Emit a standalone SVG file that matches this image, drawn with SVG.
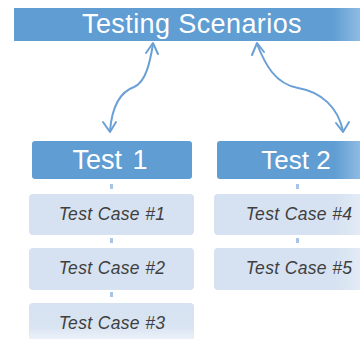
<svg xmlns="http://www.w3.org/2000/svg" width="360" height="339" viewBox="0 0 360 339">
  <style>
    .hdr { fill: #5f9dd3; }
    .hdr-text { font-family: "Liberation Sans", Arial, sans-serif; fill: #ffffff; text-anchor: middle; }
    .case { fill: #d6e2f1; }
    .case-text { font-family: "Liberation Sans", Arial, sans-serif; font-style: italic; font-size: 17.5px; letter-spacing: 0.35px; fill: #3f3f3f; text-anchor: middle; }
    .link { fill: none; stroke: #6aa0d6; stroke-width: 2; stroke-linecap: round; stroke-linejoin: round; }
    .stub { fill: #a9c5e6; }
  </style>
  <defs>
    <!-- right-edge fade for shapes running off the canvas -->
    <linearGradient id="fadeHdr" x1="0" y1="0" x2="1" y2="0">
      <stop offset="0" stop-color="#5f9dd3"/>
      <stop offset="0.92" stop-color="#5f9dd3"/>
      <stop offset="1" stop-color="#8fbbe2"/>
    </linearGradient>
    <linearGradient id="fadeHdr2" x1="0" y1="0" x2="1" y2="0">
      <stop offset="0" stop-color="#5f9dd3"/>
      <stop offset="0.78" stop-color="#5f9dd3"/>
      <stop offset="1" stop-color="#9cc3e6"/>
    </linearGradient>
    <linearGradient id="fadeCase" x1="0" y1="0" x2="1" y2="0">
      <stop offset="0" stop-color="#d6e2f1"/>
      <stop offset="0.8" stop-color="#d6e2f1"/>
      <stop offset="1" stop-color="#e4ecf6"/>
    </linearGradient>
    <linearGradient id="fadeDown" x1="0" y1="0" x2="0" y2="1">
      <stop offset="0" stop-color="#d6e2f1"/>
      <stop offset="0.6" stop-color="#d9e4f2"/>
      <stop offset="1" stop-color="#f2f6fb"/>
    </linearGradient>
  </defs>

  <g id="scenarios">
    <rect x="14" y="8" width="346" height="33" fill="url(#fadeHdr)"/>
    <text class="hdr-text" x="192" y="33" font-size="27" letter-spacing="0.4">Testing Scenarios</text>
  </g>

  <g id="test1">
    <rect class="hdr" x="32" y="141" width="160" height="38" rx="3"/>
    <text class="hdr-text" x="110" y="169" font-size="27" word-spacing="3">Test 1</text>
  </g>

  <g id="test2">
    <rect x="217" y="141" width="150" height="38" rx="3" fill="url(#fadeHdr2)"/>
    <text class="hdr-text" x="296" y="169" font-size="26">Test 2</text>
  </g>

  <g id="case1">
    <rect class="case" x="29" y="194" width="165" height="41" rx="4"/>
    <text class="case-text" x="112" y="220">Test Case #1</text>
  </g>
  <g id="case2">
    <rect class="case" x="29" y="248" width="165" height="42" rx="4"/>
    <text class="case-text" x="112" y="274">Test Case #2</text>
  </g>
  <g id="case3">
    <rect x="29" y="303" width="165" height="40" rx="4" fill="url(#fadeDown)"/>
    <text class="case-text" x="112" y="329">Test Case #3</text>
  </g>
  <g id="case4">
    <rect x="214" y="194" width="150" height="41" rx="4" fill="url(#fadeCase)"/>
    <text class="case-text" x="299" y="220">Test Case #4</text>
  </g>
  <g id="case5">
    <rect x="214" y="248" width="150" height="42" rx="4" fill="url(#fadeCase)"/>
    <text class="case-text" x="299" y="274">Test Case #5</text>
  </g>

  <g id="connectors">
    <!-- curved double-headed links from the scenario bar to each test -->
    <path class="link" d="M153 44 C150 62 146 82 134 87 C120 92 112 106 110 131"/>
    <path class="link" d="M146 53 L153 43 L158 54"/>
    <path class="link" d="M103 122 L110 132 L116 122"/>
    <path class="link" d="M257 44 C265 64 275 84 298 88 C322 92 338 108 343 131"/>
    <path class="link" d="M252 55 L257 43 L264 52"/>
    <path class="link" d="M336 123 L343 132 L349 122"/>
    <!-- short stubs between stacked boxes -->
    <rect class="stub" x="110" y="184" width="3" height="5"/>
    <rect class="stub" x="110" y="238" width="3" height="5"/>
    <rect class="stub" x="110" y="292" width="3" height="5"/>
    <rect class="stub" x="296" y="184" width="3" height="5"/>
    <rect class="stub" x="296" y="238" width="3" height="5"/>
  </g>
</svg>
